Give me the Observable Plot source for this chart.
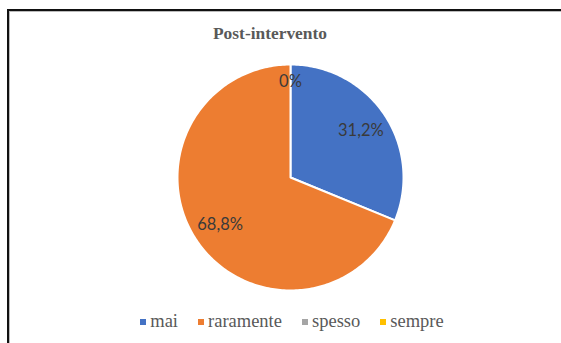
<!DOCTYPE html>
<html><head><meta charset="utf-8">
<script src="https://cdn.jsdelivr.net/npm/d3@7"></script>
<script src="https://cdn.jsdelivr.net/npm/@observablehq/plot@0.6"></script>
<style>
html,body{margin:0;padding:0;background:#fff;}
body{width:561px;height:343px;overflow:hidden;position:relative;}
#frame{position:absolute;left:7px;top:9px;width:620px;height:400px;border-left:2px solid #111;border-top:2px solid #111;box-shadow:inset 1px 1px 0 #bbb;}
#title{position:absolute;left:0;width:540px;top:22px;text-align:center;font-family:"Liberation Serif","DejaVu Serif",serif !important;font-weight:bold;font-size:17.4px;color:#595959;line-height:22px;}
#chart{position:absolute;left:0;top:0;}
#legend{position:absolute;left:0;width:584px;top:309px;display:flex;justify-content:center;align-items:center;color:#595959;line-height:24px;}
#legend span.t{font-family:"Liberation Serif","DejaVu Serif",serif !important;font-size:18.5px;}
.item{display:flex;align-items:center;margin:0 10px;}
.sw{width:6px;height:6px;margin-right:4px;margin-top:1px;display:inline-block;}
</style>
</head><body>
<div id="frame"></div>
<div id="chart"></div>
<div id="title"></div>
<div id="legend"></div>
<script>
const titleText = "Post-intervento";
const categories = ["mai", "raramente", "spesso", "sempre"];
const values = [31.2, 68.8, 0, 0];
const valueLabels = ["31,2%", "68,8%", "0%", "0%"];
const colors = ["#4472C4", "#ED7D31", "#A5A5A5", "#FFC000"];

const W = 561, H = 343, CX = 290, CY = 177, R = 113;

const total = d3.sum(values);
let cum = 0;
const slices = categories.map((c, i) => {
  const a0 = cum / total * 2 * Math.PI;
  cum += values[i];
  const a1 = cum / total * 2 * Math.PI;
  return {cat: c, value: values[i], label: valueLabels[i], a0, a1};
});

const poly = [];
for (const s of slices) {
  if (s.value <= 0) continue;
  poly.push({cat: s.cat, x: 0, y: 0});
  const n = Math.max(2, Math.ceil((s.a1 - s.a0) / (Math.PI / 180)));
  for (let k = 0; k <= n; k++) {
    const a = s.a0 + (s.a1 - s.a0) * k / n;
    poly.push({cat: s.cat, x: Math.sin(a), y: Math.cos(a)});
  }
}

const seen = new Set();
const labelData = [];
for (const s of slices) {
  const m = (s.a0 + s.a1) / 2;
  const r = s.value > 0 ? 0.75 : 0.85;
  const key = s.label + "|" + m.toFixed(4);
  if (seen.has(key)) continue;
  seen.add(key);
  labelData.push({text: s.label, x: r * Math.sin(m), y: r * Math.cos(m)});
}

const chart = Plot.plot({
  width: W, height: H, margin: 0,
  x: {domain: [-CX / R, (W - CX) / R], range: [0, W], axis: null},
  y: {domain: [-(H - CY) / R, CY / R], range: [H, 0], axis: null},
  color: {domain: categories, range: colors},
  style: {background: "transparent"},
  marks: [
    Plot.line(poly, {x: "x", y: "y", z: "cat", fill: "cat", stroke: "#fff", strokeWidth: 2, curve: "linear-closed"}),
    Plot.text(labelData, {x: "x", y: "y", text: "text", fill: "#3a3a3a", fontSize: 16.5, fontFamily: "Lato, 'Open Sans', sans-serif"})
  ]
});
document.getElementById("chart").appendChild(chart);
document.getElementById("title").textContent = titleText;

const lg = document.getElementById("legend");
categories.forEach((c, i) => {
  const it = document.createElement("div");
  it.className = "item";
  const sw = document.createElement("span");
  sw.className = "sw";
  sw.style.background = colors[i];
  const t = document.createElement("span");
  t.className = "t";
  t.textContent = c;
  it.appendChild(sw); it.appendChild(t);
  lg.appendChild(it);
});
</script>
</body></html>
